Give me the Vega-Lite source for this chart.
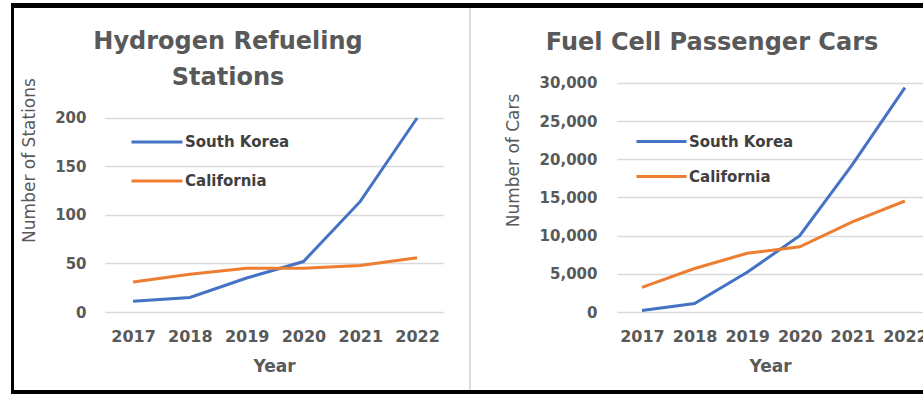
{
  "$schema": "https://vega.github.io/schema/vega-lite/v6.json",
  "background": "white",
  "padding": {"left": 11, "top": 3, "right": 0, "bottom": 0},
  "spacing": 0,
  "config": {
    "font": "DejaVu Sans",
    "view": {"stroke": null},
    "title": {"font": "DejaVu Sans", "fontSize": 24, "fontWeight": "bold", "color": "#595959", "lineHeight": 36, "anchor": "middle"},
    "axis": {"labelFont": "DejaVu Sans", "titleFont": "DejaVu Sans", "labelColor": "#595959", "titleColor": "#595959", "labelFontWeight": "bold", "domain": false, "ticks": false, "gridColor": "#d9d9d9", "gridWidth": 1.5},
    "legend": {"symbolType": "stroke", "symbolStrokeWidth": 3, "labelFont": "DejaVu Sans", "labelFontSize": 15, "labelFontWeight": "bold", "labelColor": "#404040", "padding": 0, "labelOffset": 1}
  },
  "datasets": {
    "stations": [
      {"year": "2017", "region": "South Korea", "value": 11},
      {"year": "2018", "region": "South Korea", "value": 15},
      {"year": "2019", "region": "South Korea", "value": 35},
      {"year": "2020", "region": "South Korea", "value": 52},
      {"year": "2021", "region": "South Korea", "value": 114},
      {"year": "2022", "region": "South Korea", "value": 200},
      {"year": "2017", "region": "California", "value": 31},
      {"year": "2018", "region": "California", "value": 39},
      {"year": "2019", "region": "California", "value": 45},
      {"year": "2020", "region": "California", "value": 45},
      {"year": "2021", "region": "California", "value": 48},
      {"year": "2022", "region": "California", "value": 56}
    ],
    "cars": [
      {"year": "2017", "region": "South Korea", "value": 200},
      {"year": "2018", "region": "South Korea", "value": 1100},
      {"year": "2019", "region": "South Korea", "value": 5200},
      {"year": "2020", "region": "South Korea", "value": 10000},
      {"year": "2021", "region": "South Korea", "value": 19300},
      {"year": "2022", "region": "South Korea", "value": 29400},
      {"year": "2017", "region": "California", "value": 3230},
      {"year": "2018", "region": "California", "value": 5700},
      {"year": "2019", "region": "California", "value": 7700},
      {"year": "2020", "region": "California", "value": 8550},
      {"year": "2021", "region": "California", "value": 11800},
      {"year": "2022", "region": "California", "value": 14540}
    ]
  },
  "vconcat": [
    {"width": 912, "height": 5, "data": {"values": []}, "mark": "point", "view": {"fill": "black", "stroke": null}},
    {
      "spacing": 0,
      "bounds": "flush",
      "resolve": {"scale": {"color": "independent"}, "legend": {"color": "independent"}},
      "hconcat": [
        {"width": 3, "height": 382, "data": {"values": []}, "mark": "point", "view": {"fill": "black", "stroke": null}},
        {"width": 91, "height": 382, "data": {"values": []}, "mark": "point"},
        {
          "width": 338,
          "height": 304,
          "data": {"name": "stations"},
          "title": {"text": ["Hydrogen Refueling", "Stations"], "offset": -82, "dx": -46},
          "mark": {"type": "line", "strokeWidth": 3},
          "encoding": {
            "x": {"field": "year", "type": "ordinal", "scale": {"type": "point", "padding": 0.475, "align": 0.52},
              "axis": {"title": "Year", "labelAngle": 0, "labelFontSize": 16, "labelPadding": 16, "titleFontSize": 17, "titleFontWeight": "bold", "titlePadding": 14, "minExtent": 32, "maxExtent": 32, "grid": false}},
            "y": {"field": "value", "type": "quantitative", "scale": {"domain": [0, 313.4], "nice": false},
              "axis": {"title": "Number of Stations", "values": [0, 50, 100, 150, 200], "labelFontSize": 15, "labelPadding": 19, "titleFontSize": 17, "titleFontWeight": "normal", "titlePadding": 12, "minExtent": 55, "maxExtent": 55}},
            "color": {"field": "region", "type": "nominal", "sort": ["South Korea", "California"],
              "scale": {"domain": ["South Korea", "California"], "range": ["#4472C4", "#ED7D31"]},
              "legend": {"title": null, "orient": "none", "legendX": 25, "legendY": 107, "symbolSize": 2601, "rowPadding": 4}}
          }
        },
        {"width": 26, "height": 382, "data": {"values": []}, "mark": "point"},
        {"width": 2, "height": 382, "data": {"values": []}, "mark": "point", "view": {"fill": "#dcdcdc", "stroke": null}},
        {"width": 146, "height": 382, "data": {"values": []}, "mark": "point"},
        {
          "width": 306,
          "height": 304,
          "data": {"name": "cars"},
          "title": {"text": "Fuel Cell Passenger Cars", "offset": -47, "dx": -58},
          "mark": {"type": "line", "strokeWidth": 3},
          "encoding": {
            "x": {"field": "year", "type": "ordinal", "scale": {"type": "point", "padding": 0.409, "align": 0.58},
              "axis": {"title": "Year", "labelAngle": 0, "labelFontSize": 16, "labelPadding": 16, "titleFontSize": 17, "titleFontWeight": "bold", "titlePadding": 14, "minExtent": 32, "maxExtent": 32, "grid": false}},
            "y": {"field": "value", "type": "quantitative", "scale": {"domain": [0, 39825], "nice": false},
              "axis": {"title": "Number of Cars", "values": [0, 5000, 10000, 15000, 20000, 25000, 30000], "format": ",.0f", "labelFontSize": 15, "labelPadding": 20, "titleFontSize": 17, "titleFontWeight": "normal", "titlePadding": 20, "minExtent": 75, "maxExtent": 75}},
            "color": {"field": "region", "type": "nominal", "sort": ["South Korea", "California"],
              "scale": {"domain": ["South Korea", "California"], "range": ["#4472C4", "#ED7D31"]},
              "legend": {"title": null, "orient": "none", "legendX": 18, "legendY": 107, "symbolSize": 2500, "rowPadding": 0}}
          }
        }
      ]
    },
    {"width": 912, "height": 4, "data": {"values": []}, "mark": "point", "view": {"fill": "black", "stroke": null}}
  ]
}
